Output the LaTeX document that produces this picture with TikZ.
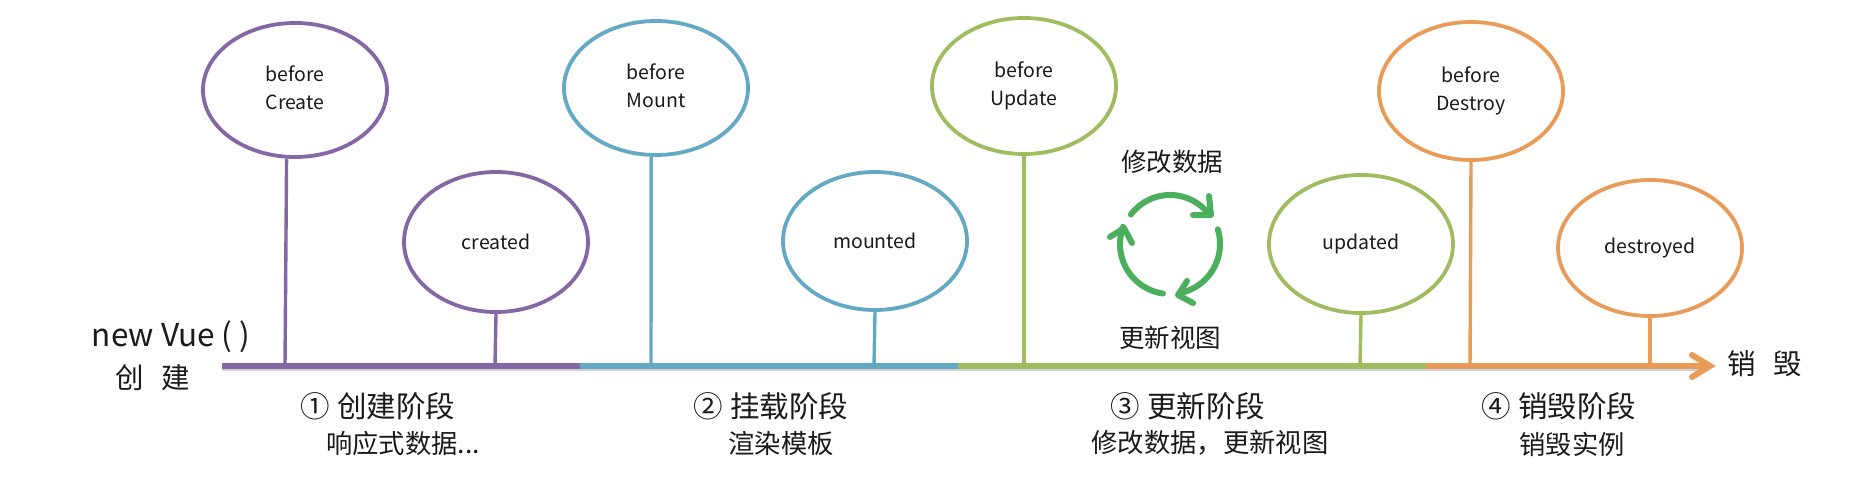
\documentclass[tikz,border=0pt]{standalone}
\usepackage{fontspec}
\setmainfont{Noto Sans CJK SC}
\usetikzlibrary{shapes.geometric}
\definecolor{cpurple}{HTML}{8468A6}
\definecolor{cblue}{HTML}{63A9C4}
\definecolor{cgreen}{HTML}{A0BC60}
\definecolor{corange}{HTML}{E99C58}
\definecolor{cloop}{HTML}{4CAF5E}
\definecolor{ctext}{HTML}{1A1A1A}
\newcommand{\hkpair}[3]{\raisebox{#1}{\begin{tabular}{@{}c@{}}#2\\#3\end{tabular}}}
\tikzset{
  x=1pt,y=-1pt,
  hook/.style={ellipse,draw=#1,line width=3.8pt,fill=white,minimum width=184pt,minimum height=134pt,inner sep=0pt,align=center,font=\fontsize{19.5}{28}\selectfont,text=ctext},
  stem/.style={draw=#1,line width=3.4pt},
  axisline/.style={draw=#1,line width=6pt},
  shade/.style={draw=black,opacity=.18,line width=5pt},
  title/.style={font=\fontsize{29.5}{34}\selectfont,text=ctext,inner sep=0pt},
  sub/.style={font=\fontsize{26.3}{30}\selectfont,text=ctext,inner sep=0pt},
  side/.style={font=\fontsize{28.5}{32}\selectfont,text=ctext,inner sep=0pt},
  note/.style={font=\fontsize{25.5}{30}\selectfont,text=ctext,inner sep=0pt},
  loop/.style={draw=cloop,line width=6pt,line cap=round,line join=round},
  looparc/.style={loop,domain=#1,samples=30,smooth,variable=\t},
}
\begin{document}
\begin{tikzpicture}
\useasboundingbox[fill=white] (0,0) rectangle (1873,492);
% axis anchors
\coordinate (start) at (222,366);
\coordinate (m1) at (580,366);
\coordinate (m2) at (958,366);
\coordinate (m3) at (1426,366);
\coordinate (tip) at (1710,366);
\coordinate (a1) at (285,366);
\coordinate (a2) at (495,366);
\coordinate (a3) at (651,366);
\coordinate (a4) at (874,366);
\coordinate (a5) at (1024,366);
\coordinate (a6) at (1360,366);
\coordinate (a7) at (1470,366);
\coordinate (a8) at (1650,366);
\coordinate (h1) at (1692,355);
\coordinate (h2) at (1692,377);
% shadow
\draw[shade] (222,368.5) -- (1708,368.5);
% hooks
\node[hook=cpurple] (bc) at (295,90) {\hkpair{13pt}{before}{Create}};
\node[hook=cpurple,minimum height=140pt] (cr) at (496,242) {created};
\node[hook=cblue] (bm) at (656,88) {\hkpair{11pt}{before}{Mount}};
\node[hook=cblue,minimum height=138pt] (mo) at (875,241) {mounted};
\node[hook=cgreen,minimum height=136pt] (bu) at (1024,86) {\hkpair{14pt}{before}{Update}};
\node[hook=cgreen,minimum height=138pt] (up) at (1361,244) {\raisebox{-4pt}{updated}};
\node[hook=corange,minimum height=138pt] (bd) at (1471,91) {\hkpair{9pt}{before}{Destroy}};
\node[hook=corange,minimum height=136pt] (de) at (1650,248) {\raisebox{-4pt}{destroyed}};
% stems
\draw[stem=cpurple] (bc.263) -- (a1);
\draw[stem=cpurple] (cr.south) -- (a2);
\draw[stem=cblue] (bm.266) -- (a3);
\draw[stem=cblue] (mo.south) -- (a4);
\draw[stem=cgreen] (bu.south) -- (a5);
\draw[stem=cgreen] (up.south) -- (a6);
\draw[stem=corange] (bd.south) -- (a7);
\draw[stem=corange] (de.south) -- (a8);
% axis
\draw[axisline=cpurple] (start) -- (m1);
\draw[axisline=cblue] (m1) -- (m2);
\draw[axisline=cgreen] (m2) -- (m3);
\draw[axisline=corange] (m3) -- (tip);
\draw[draw=corange,line width=6pt,line cap=round,line join=miter] (h1) -- (tip) -- (h2);
% loop
\draw[looparc=143:38] plot ({1170+49*cos(\t)},{244-49*sin(\t)});
\draw[loop] (1209,196) -- (1211,215) -- (1193,215);
\draw[looparc=17:-78] plot ({1170+50*cos(\t)},{244-50*sin(\t)});
\draw[loop] (1187,281) -- (1178,295) -- (1193,303);
\draw[looparc=-98:-200] plot ({1170+50*cos(\t)},{244-50*sin(\t)});
\draw[loop] (1110,237) -- (1124,228) -- (1132,243);
% texts
\node[side,font=\fontsize{31.5}{34}\selectfont] (nv) at (171,337) {new Vue ( )};
\node[side] (cj) at (153,378) {创\hspace{.6em}建};
\node[side] (xh) at (1765,364) {销\hspace{.6em}毁};
\node[note] (xg) at (1172,162) {修改数据};
\node[note] (gx) at (1170,338) {更新视图};
\node[title] (t1) at (378,406) {① 创建阶段};
\node[sub] (s1) at (403,443) {响应式数据...};
\node[title] (t2) at (771,406) {② 挂载阶段};
\node[sub] (s2) at (781,443) {渲染模板};
\node[title] (t3) at (1188,406) {③ 更新阶段};
\node[sub] (s3) at (1210,443) {修改数据，更新视图};
\node[title] (t4) at (1559,406) {④ 销毁阶段};
\node[sub] (s4) at (1572,444) {销毁实例};
\end{tikzpicture}
\end{document}
